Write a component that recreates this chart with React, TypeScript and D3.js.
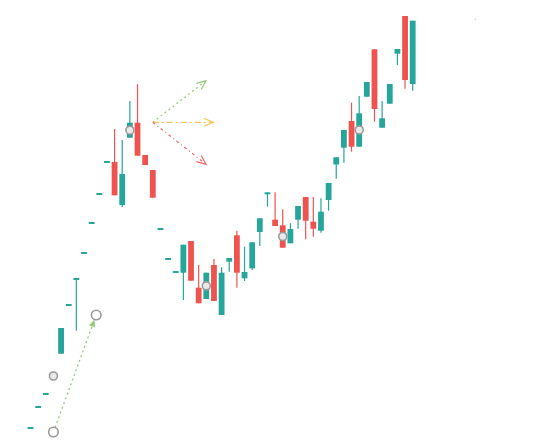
import React from "react";
import * as d3 from "d3";

// index of each candle on the category axis
const indices: number[] = d3.range(51);
// open / close / high / low (price units)
const opens: number[] = [11, 32, 45, 63, 86.3, 134, 160, 186, 216, 245, 277, 278, 235, 302.3, 317.3, 285, 270, 210, 180, 167, 167.3, 199, 152.3, 141, 175, 125, 178.3, 204.7, 161.7, 171.7, 208, 245.7, 220.3, 214.7, 196.7, 220.3, 243, 218.3, 209.3, 240, 275.5, 292.3, 319, 293.3, 343.3, 390.7, 312.3, 336.3, 386.3, 424, 356];
const closes: number[] = [13, 34, 47, 65, 112, 136, 162, 188, 218, 247, 279, 244.7, 266, 317.3, 284.3, 275, 242.3, 212, 182, 169, 195.3, 159.3, 136.7, 167.3, 139, 167.3, 182, 167.3, 168, 197.7, 221.7, 247.7, 214, 192.3, 211, 234, 219.3, 211.3, 228.3, 257, 282.7, 310, 293.3, 326.7, 358, 331, 321.7, 356, 391, 360, 419.3];
const highs: number[] = [13, 34, 47, 65, 112, 136, 162, 188, 218, 247, 279, 311, 300, 339, 355.7, 285, 270, 212, 182, 169, 195.3, 199, 175, 167.3, 181, 172.7, 182, 209.3, 193.3, 197.7, 221.7, 247.7, 247.7, 230.7, 216.7, 234, 243, 243, 241.7, 257, 282.7, 310, 337.3, 344, 358, 390.7, 339, 356, 391, 424, 419.3];
const lows: number[] = [11, 32, 45, 63, 86.3, 134, 109.3, 186, 216, 245, 277, 244.7, 233, 302.3, 284.3, 275, 242.3, 210, 180, 167, 140, 159.3, 136.7, 141, 139, 125, 168.3, 152.3, 159, 170, 194, 233.3, 214, 192.3, 196.7, 211.3, 200.7, 203.3, 207.3, 229.3, 261.3, 277.3, 288.3, 293.3, 343.3, 318.3, 312.3, 336.3, 375, 351.3, 349.3];

// mark points on every tenth candle (at body middle)
const markIdx: number[] = [3, 13, 23, 33, 43];

// rising trend arrow (start / end points: index, price)
const trendFrom: [number, number] = [3, 8];
const trendTo: [number, number] = [8.6, 125];

// forecast fan (origin and three targets)
const fanOrigin: [number, number] = [16, 317.7];
const fanTargets: { to: [number, number]; color: string; dash: string }[] = [
  { to: [22.96, 359.3], color: "#91cc75", dash: "2,3" },
  { to: [23.9, 317.7], color: "#fac858", dash: "6,3,2,3" },
  { to: [22.96, 275.7], color: "#ee6666", dash: "3,3,1,3" },
];

const faintDot: [number, number] = [58.2, 420.7];

const UP = "#26a69a";
const DOWN = "#ef5350";

export default function App() {
  const W = 548, H = 447;
  const x = d3.scaleLinear().domain([0, 50]).range([30.5, 412.7]);
  const y = d3.scaleLinear().domain([0, 440]).range([440, 0]);
  const bodyW = 5.8;

  const chevron = (x1: number, y1: number, x2: number, y2: number, len: number, ang: number) => {
    const a = Math.atan2(y2 - y1, x2 - x1);
    const p1 = [x2 - len * Math.cos(a - ang), y2 - len * Math.sin(a - ang)];
    const p2 = [x2 - len * Math.cos(a + ang), y2 - len * Math.sin(a + ang)];
    return `M${p1[0]},${p1[1]}L${x2},${y2}L${p2[0]},${p2[1]}`;
  };

  // trend arrow geometry
  const tx1 = x(trendFrom[0]), ty1 = y(trendFrom[1]);
  const tx2 = x(trendTo[0]), ty2 = y(trendTo[1]);
  const ta = Math.atan2(ty2 - ty1, tx2 - tx1);
  const r = 4.8;
  const sx = tx1 + r * Math.cos(ta), sy = ty1 + r * Math.sin(ta);
  const ex = tx2 - (r + 1) * Math.cos(ta), ey = ty2 - (r + 1) * Math.sin(ta);
  const headLen = 7, headAng = 0.45;
  const h1 = [ex - headLen * Math.cos(ta - headAng), ey - headLen * Math.sin(ta - headAng)];
  const h2 = [ex - headLen * Math.cos(ta + headAng), ey - headLen * Math.sin(ta + headAng)];

  const ox = x(fanOrigin[0]), oy = y(fanOrigin[1]);

  return (
    <svg width={W} height={H} style={{ position: "absolute", left: 0, top: 0, background: "#fff" }}>
      {indices.map((i) => {
        const o = opens[i], c = closes[i];
        const up = c >= o;
        const col = up ? UP : DOWN;
        const cx = x(i);
        const top = y(Math.max(o, c));
        const bot = y(Math.min(o, c));
        return (
          <g key={i}>
            <line x1={cx} x2={cx} y1={y(highs[i])} y2={y(lows[i])} stroke={col} strokeWidth={1.2} />
            <rect x={cx - bodyW / 2} y={top} width={bodyW} height={Math.max(1.6, bot - top)} fill={col} />
          </g>
        );
      })}
      {markIdx.map((i) => (
        <circle key={"m" + i} cx={x(i)} cy={y((opens[i] + closes[i]) / 2)} r={4}
          fill="#e6ebea" stroke="#9a9a9a" strokeWidth={1.6} />
      ))}
      {/* trend arrow */}
      <line x1={sx} y1={sy} x2={ex} y2={ey} stroke="#91cc75" strokeWidth={1.3} strokeDasharray="2,3" />
      <path d={`M${tx2 - r * Math.cos(ta)},${ty2 - r * Math.sin(ta)}L${h1[0]},${h1[1]}L${h2[0]},${h2[1]}Z`} fill="#91cc75" />
      <circle cx={tx1} cy={ty1} r={r} fill="#fff" stroke="#999" strokeWidth={1.6} />
      <circle cx={tx2} cy={ty2} r={r} fill="#fff" stroke="#999" strokeWidth={1.6} />
      {/* forecast fan */}
      {fanTargets.map((f, k) => {
        const fx = x(f.to[0]), fy = y(f.to[1]);
        return (
          <g key={"f" + k}>
            <line x1={ox} y1={oy} x2={fx} y2={fy} stroke={f.color} strokeWidth={1.2} strokeDasharray={f.dash} />
            <path d={chevron(ox, oy, fx, fy, 10, 0.4)} fill="none" stroke={f.color} strokeWidth={1.2} />
          </g>
        );
      })}
      <circle cx={x(faintDot[0])} cy={y(faintDot[1])} r={0.9} fill="#f3c6d8" />
    </svg>
  );
}
